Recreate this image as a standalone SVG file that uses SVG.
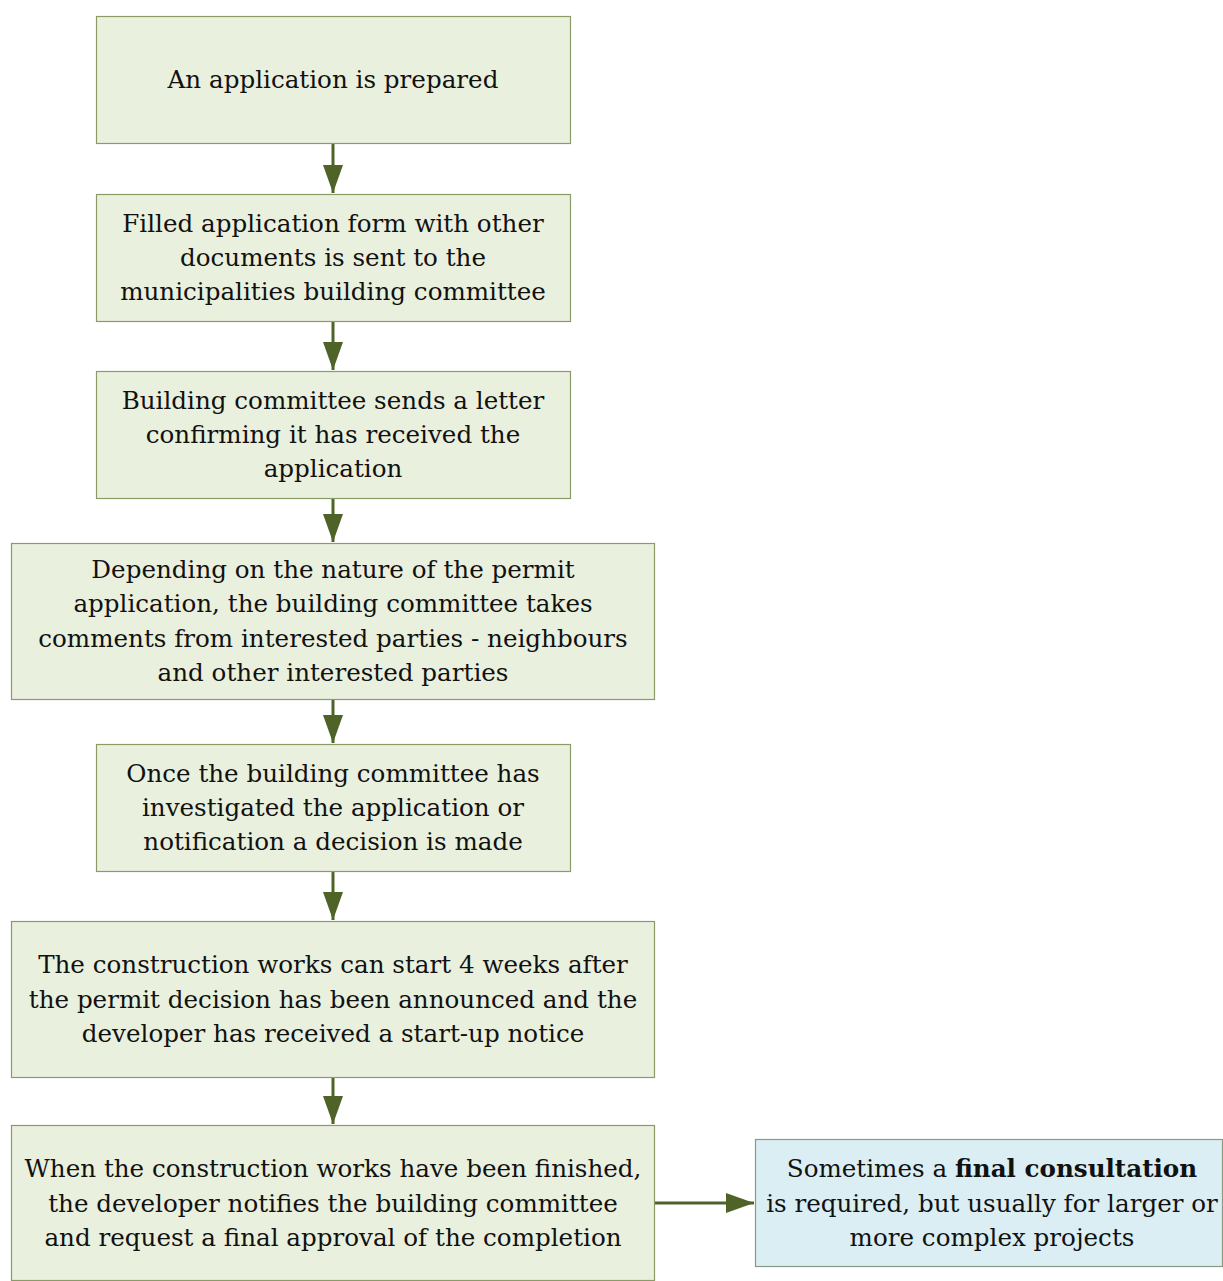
<svg xmlns="http://www.w3.org/2000/svg" width="1223" height="1281" viewBox="0 0 1223 1281">
  <style>
    .step { fill: #EAF0DE; stroke: #8A9B67; stroke-width: 1.2; }
    .note { fill: #DBEEF4; stroke: #8A9B83; stroke-width: 1.2; }
    .lbl { font-family: "DejaVu Serif", "Liberation Serif", serif; font-size: 24.6px; fill: #111; text-anchor: middle; }
    .flow { stroke: #4F6228; stroke-width: 3; fill: none; }
  </style>
  <defs>
    <marker id="head" markerUnits="userSpaceOnUse" markerWidth="30" markerHeight="22" refX="28" refY="10" orient="auto">
      <path d="M0,0 L28,10 L0,20 Z" fill="#4F6228"/>
    </marker>
  </defs>
  <rect width="1223" height="1281" fill="#ffffff"/>

  <g id="connectors">
    <line class="flow" x1="333" y1="143" x2="333" y2="193" marker-end="url(#head)"/>
    <line class="flow" x1="333" y1="321" x2="333" y2="370" marker-end="url(#head)"/>
    <line class="flow" x1="333" y1="498" x2="333" y2="542" marker-end="url(#head)"/>
    <line class="flow" x1="333" y1="699" x2="333" y2="743" marker-end="url(#head)"/>
    <line class="flow" x1="333" y1="871" x2="333" y2="920" marker-end="url(#head)"/>
    <line class="flow" x1="333" y1="1077" x2="333" y2="1124" marker-end="url(#head)"/>
    <line class="flow" x1="655" y1="1203" x2="754" y2="1203" marker-end="url(#head)"/>
  </g>

  <g id="step1">
    <rect class="step" x="96.5" y="16.5" width="474" height="127"/>
    <text class="lbl" x="333" y="88">An application is prepared</text>
  </g>
  <g id="step2">
    <rect class="step" x="96.5" y="194.5" width="474" height="127"/>
    <text class="lbl" x="333" y="232">Filled application form with other</text>
    <text class="lbl" x="333" y="266">documents is sent to the</text>
    <text class="lbl" x="333" y="300">municipalities building committee</text>
  </g>
  <g id="step3">
    <rect class="step" x="96.5" y="371.5" width="474" height="127"/>
    <text class="lbl" x="333" y="409">Building committee sends a letter</text>
    <text class="lbl" x="333" y="443">confirming it has received the</text>
    <text class="lbl" x="333" y="477">application</text>
  </g>
  <g id="step4">
    <rect class="step" x="11.5" y="543.5" width="643" height="156"/>
    <text class="lbl" x="333" y="578">Depending on the nature of the permit</text>
    <text class="lbl" x="333" y="612">application, the building committee takes</text>
    <text class="lbl" x="333" y="647">comments from interested parties - neighbours</text>
    <text class="lbl" x="333" y="681">and other interested parties</text>
  </g>
  <g id="step5">
    <rect class="step" x="96.5" y="744.5" width="474" height="127"/>
    <text class="lbl" x="333" y="782">Once the building committee has</text>
    <text class="lbl" x="333" y="816">investigated the application or</text>
    <text class="lbl" x="333" y="850">notification a decision is made</text>
  </g>
  <g id="step6">
    <rect class="step" x="11.5" y="921.5" width="643" height="156"/>
    <text class="lbl" x="333" y="973">The construction works can start 4 weeks after</text>
    <text class="lbl" x="333" y="1008">the permit decision has been announced and the</text>
    <text class="lbl" x="333" y="1042">developer has received a start-up notice</text>
  </g>
  <g id="step7">
    <rect class="step" x="11.5" y="1125.5" width="643" height="155"/>
    <text class="lbl" x="333" y="1177">When the construction works have been finished,</text>
    <text class="lbl" x="333" y="1212">the developer notifies the building committee</text>
    <text class="lbl" x="333" y="1246">and request a final approval of the completion</text>
  </g>
  <g id="note">
    <rect class="note" x="755.5" y="1139.5" width="467" height="127"/>
    <text class="lbl" x="992" y="1177">Sometimes a <tspan font-weight="bold">final consultation</tspan></text>
    <text class="lbl" x="992" y="1212">is required, but usually for larger or</text>
    <text class="lbl" x="992" y="1246">more complex projects</text>
  </g>
</svg>
